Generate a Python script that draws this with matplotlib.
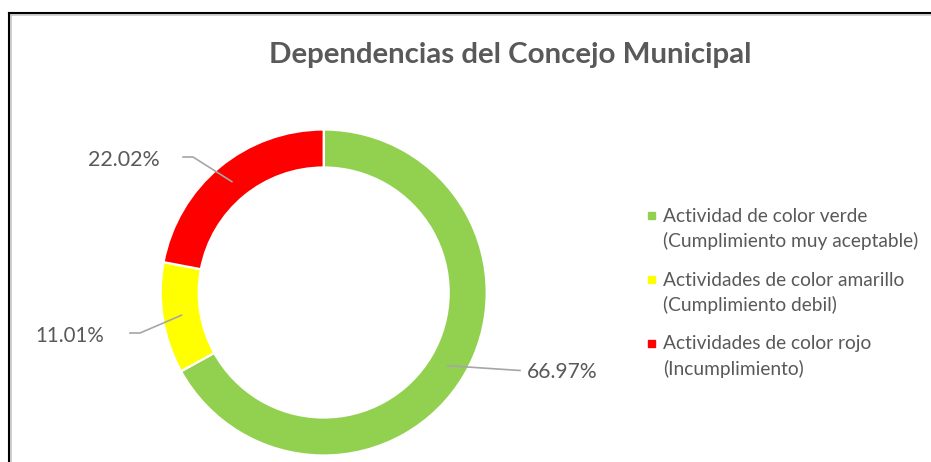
import matplotlib
matplotlib.use("Agg")
import matplotlib.pyplot as plt
from matplotlib.lines import Line2D
from matplotlib.patches import Rectangle
import numpy as np

# ---- data ----
title = "Dependencias del Concejo Municipal"
categories = ["Actividad de color verde\n(Cumplimiento muy aceptable)",
              "Actividades de color amarillo\n(Cumplimiento debil)",
              "Actividades de color rojo\n(Incumplimiento)"]
counts = [73, 12, 24]
colors = ["#92D050", "#FFFF00", "#FF0000"]

W, H = 931, 462
fig = plt.figure(figsize=(W / 100, H / 100), dpi=100)
fig.patch.set_facecolor("white")
TXT = "#595959"
FONT = "Lato"

def fx(px):
    return px / W

def fy(py):
    return (H - py) / H

# donut axes: centre (323.7, 292.5), radius 163 px
cx, cy, R = 323.7, 292.5, 163.0
ax = fig.add_axes([fx(cx - R), fy(cy + R), 2 * R / W, 2 * R / H])
wedges, _ = ax.pie(counts, colors=colors, startangle=90, counterclock=False,
                   radius=1.0,
                   wedgeprops=dict(width=38 / 163, edgecolor="white", linewidth=1.6))
ax.set_xlim(-1, 1)
ax.set_ylim(-1, 1)
ax.set_aspect("equal")
ax.axis("off")

renderer = fig.canvas.get_renderer()

def fit_text(x, y, s, target_w, weight="normal", ha="left", va="baseline", base=20):
    t = fig.text(fx(x), fy(y), s, fontsize=base, family=FONT, weight=weight,
                 color=TXT, ha=ha, va=va)
    w = t.get_window_extent(renderer).width
    t.set_fontsize(base * target_w / w)
    return t

# title
fit_text(510, 63, title, 484, weight="bold", ha="center", base=20)

# percentage labels
total = sum(counts)
pcts = [c / total * 100 for c in counts]
label_pos = [(527, 377.5, 71), (35, 341.5, 69), (88, 166.5, 72)]
leader_pts = [[(520, 370.5)], [(130, 333), (140, 333)], [(183, 157), (193, 157)]]
to_fig = fig.transFigure.inverted()
for w, p, (lx, ly, lw), pts in zip(wedges, pcts, label_pos, leader_pts):
    fit_text(lx, ly, f"{p:.2f}%", lw, base=16)
    mid = np.deg2rad((w.theta1 + w.theta2) / 2)
    r = 1 - w.width / 2
    a = to_fig.transform(ax.transData.transform((r * np.cos(mid), r * np.sin(mid))))
    xs = [fx(px) for px, py in pts] + [a[0]]
    ys = [fy(py) for px, py in pts] + [a[1]]
    fig.add_artist(Line2D(xs, ys, color="#A6A6A6", lw=1.2, transform=fig.transFigure))

# legend (manual)
leg_y = [221.7, 285.7, 349.3]
for lab, col, yb in zip(categories, colors, leg_y):
    l1, l2 = lab.split("\n")
    fig.add_artist(Rectangle((fx(648), fy(yb - 2.5)), 7 / W, 7 / H, color=col,
                             transform=fig.transFigure))
    t1 = fig.text(fx(663), fy(yb), l1, fontsize=14, family=FONT, color=TXT, va="baseline")
    t2 = fig.text(fx(663), fy(yb + 25.3), l2, fontsize=14, family=FONT, color=TXT, va="baseline")
# size legend font to width of the widest line
ref = fig.texts[-5] if False else None
widest = [t for t in fig.texts if t.get_text() == "(Cumplimiento muy aceptable)"][0]
scale = 257 / widest.get_window_extent(renderer).width
for t in fig.texts:
    if t.get_position()[0] == fx(663):
        t.set_fontsize(14 * scale)

# chart frame (top and left edges)
fig.add_artist(Line2D([fx(10.5), fx(931)], [fy(15), fy(15)], color="#C8C8C8", lw=1.2,
                      transform=fig.transFigure))
fig.add_artist(Line2D([fx(10.5), fx(10.5)], [fy(15), fy(462)], color="#C8C8C8", lw=1.2,
                      transform=fig.transFigure))
fig.add_artist(Line2D([fx(9), fx(931)], [fy(13.3), fy(13.3)], color="black", lw=1.5,
                      transform=fig.transFigure))
fig.add_artist(Line2D([fx(9), fx(9)], [fy(13.3), fy(462)], color="black", lw=1.5,
                      transform=fig.transFigure))

fig.savefig("out.png", dpi=100, facecolor="white")
